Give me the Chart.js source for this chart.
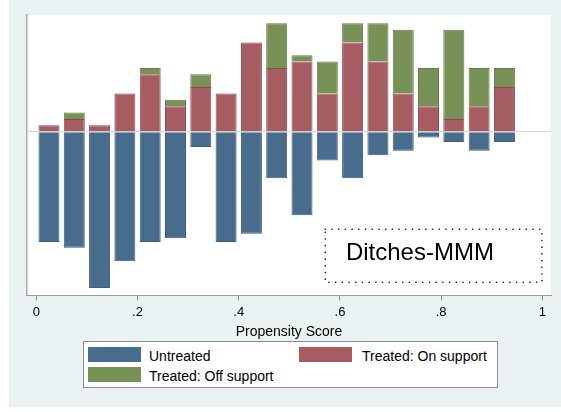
<!DOCTYPE html>
<html>
<head>
<meta charset="utf-8">
<script src="https://cdn.jsdelivr.net/npm/chart.js@4"></script>
<style>
  body { margin: 0; background: #fff; }
  #wrap { position: relative; width: 561px; height: 412px; font-family: "Liberation Sans", Arial, sans-serif; }
  #panel { position: absolute; left: 9px; top: 0; width: 552px; height: 407px; background: #eaf2f3; }
  #myChart { position: absolute; left: 0; top: 0; }
  #legend { position: absolute; left: 83px; top: 341px; width: 413px; height: 45px; background: #fff; border: 1px solid #8c8c8c; }
  .sw { position: absolute; width: 53px; height: 15px; }
  .lt { position: absolute; font-size: 14px; line-height: 16px; color: #000; white-space: nowrap; }
</style>
</head>
<body>
<div id="wrap">
  <div id="panel"></div>
  <canvas id="myChart" width="561" height="412"></canvas>
  <div id="legend">
    <div class="sw" style="left:4px;top:5px;background:#486c8c"></div>
    <div class="lt" style="left:65px;top:6px">Untreated</div>
    <div class="sw" style="left:215px;top:5px;background:#a65d62"></div>
    <div class="lt" style="left:278px;top:6px">Treated: On support</div>
    <div class="sw" style="left:4px;top:25px;background:#779157"></div>
    <div class="lt" style="left:65px;top:26px">Treated: Off support</div>
  </div>
</div>
<script>
// bin centres of the propensity score histogram
const bins = [0.025, 0.075, 0.125, 0.175, 0.225, 0.275, 0.325, 0.375, 0.425, 0.475,
              0.525, 0.575, 0.625, 0.675, 0.725, 0.775, 0.825, 0.875, 0.925]
// untreated drawn downwards
const untreated = [-17.3, -18.2, -24.5, -20.3, -17.3, -16.7, -2.4, -17.3, -16.0, -7.3,
                   -13.1, -4.5, -7.3, -3.7, -3.0, -0.9, -1.6, -3.0, -1.6]
const onSupport = [1, 2, 1, 6, 9, 4, 7, 6, 14, 10, 11, 6, 14, 11, 6, 4, 2, 4, 7]
const offSupport = [0, 1, 0, 0, 1, 1, 2, 0, 0, 7, 1, 5, 3, 6, 10, 6, 14, 6, 3]
const xTicks = [0, 0.2, 0.4, 0.6, 0.8, 1]

function pts(vals) {
  return vals.map((v, i) => ({ x: bins[i], y: v }))
}

// white plot region
const plotBg = {
  id: 'plotBg',
  beforeDraw(chart) {
    const a = chart.chartArea
    chart.ctx.save()
    chart.ctx.fillStyle = '#fff'
    chart.ctx.fillRect(a.left, a.top, a.right - a.left, a.bottom - a.top)
    chart.ctx.restore()
  }
}

// dotted box with the label
const noteBox = {
  id: 'noteBox',
  afterDatasetsDraw(chart) {
    const ctx = chart.ctx
    const xs = chart.scales.x, ys = chart.scales.y
    const l = xs.getPixelForValue(0.571), r = xs.getPixelForValue(0.999)
    const t = ys.getPixelForValue(-15.3), b = ys.getPixelForValue(-23.6)
    ctx.save()
    ctx.fillStyle = '#fff'
    ctx.fillRect(l, t, r - l, b - t)
    ctx.strokeStyle = '#111'
    ctx.lineWidth = 1.6
    ctx.lineCap = 'round'
    ctx.setLineDash([0.1, 6.6])
    ctx.strokeRect(l, t, r - l, b - t)
    ctx.setLineDash([])
    ctx.fillStyle = '#000'
    ctx.font = '24px "Liberation Sans", Arial, sans-serif'
    ctx.textAlign = 'center'
    ctx.textBaseline = 'middle'
    ctx.fillText('Ditches-MMM', xs.getPixelForValue(0.758), ys.getPixelForValue(-19.1))
    ctx.restore()
  }
}

new Chart(document.getElementById('myChart'), {
  type: 'bar',
  data: {
    datasets: [
      { label: 'Untreated', data: pts(untreated), backgroundColor: '#486c8c', borderColor: '#3a5d7e', borderWidth: 1 },
      { label: 'Treated: On support', data: pts(onSupport), backgroundColor: '#a65d62', borderColor: '#94454b', borderWidth: 1 },
      { label: 'Treated: Off support', data: pts(offSupport), backgroundColor: '#779157', borderColor: '#627d41', borderWidth: 1 }
    ]
  },
  options: {
    responsive: false,
    animation: false,
    barPercentage: 0.83,
    categoryPercentage: 1,
    layout: { padding: { left: 27, right: 10, top: 15, bottom: 71 } },
    plugins: { legend: { display: false }, tooltip: { enabled: false } },
    scales: {
      x: {
        type: 'linear',
        stacked: true,
        offset: false,
        min: -0.0184,
        max: 1.017,
        afterBuildTicks: (s) => { s.ticks = xTicks.map(v => ({ value: v })) },
        ticks: {
          color: '#000',
          padding: 4,
          maxRotation: 0,
          font: { family: '"Liberation Sans", Arial, sans-serif', size: 13 },
          callback: (v) => v === 0 ? '0' : v === 1 ? '1' : String(v).replace('0.', '.')
        },
        grid: { offset: false, drawOnChartArea: false, tickLength: 5, color: '#8c8c8c' },
        border: { color: '#9a9a9a', width: 1 },
        title: {
          display: true,
          text: 'Propensity Score',
          color: '#000',
          padding: { top: 0, bottom: 0 },
          font: { family: '"Liberation Sans", Arial, sans-serif', size: 14 }
        }
      },
      y: {
        stacked: true,
        min: -25.7,
        max: 18.3,
        afterBuildTicks: (s) => { s.ticks = [{ value: 0 }] },
        ticks: { display: false },
        grid: { drawTicks: false, color: '#d6d6d6' },
        border: { color: '#a8a8a8', width: 1.5 }
      }
    }
  },
  plugins: [plotBg, noteBox]
})
</script>
</body>
</html>
